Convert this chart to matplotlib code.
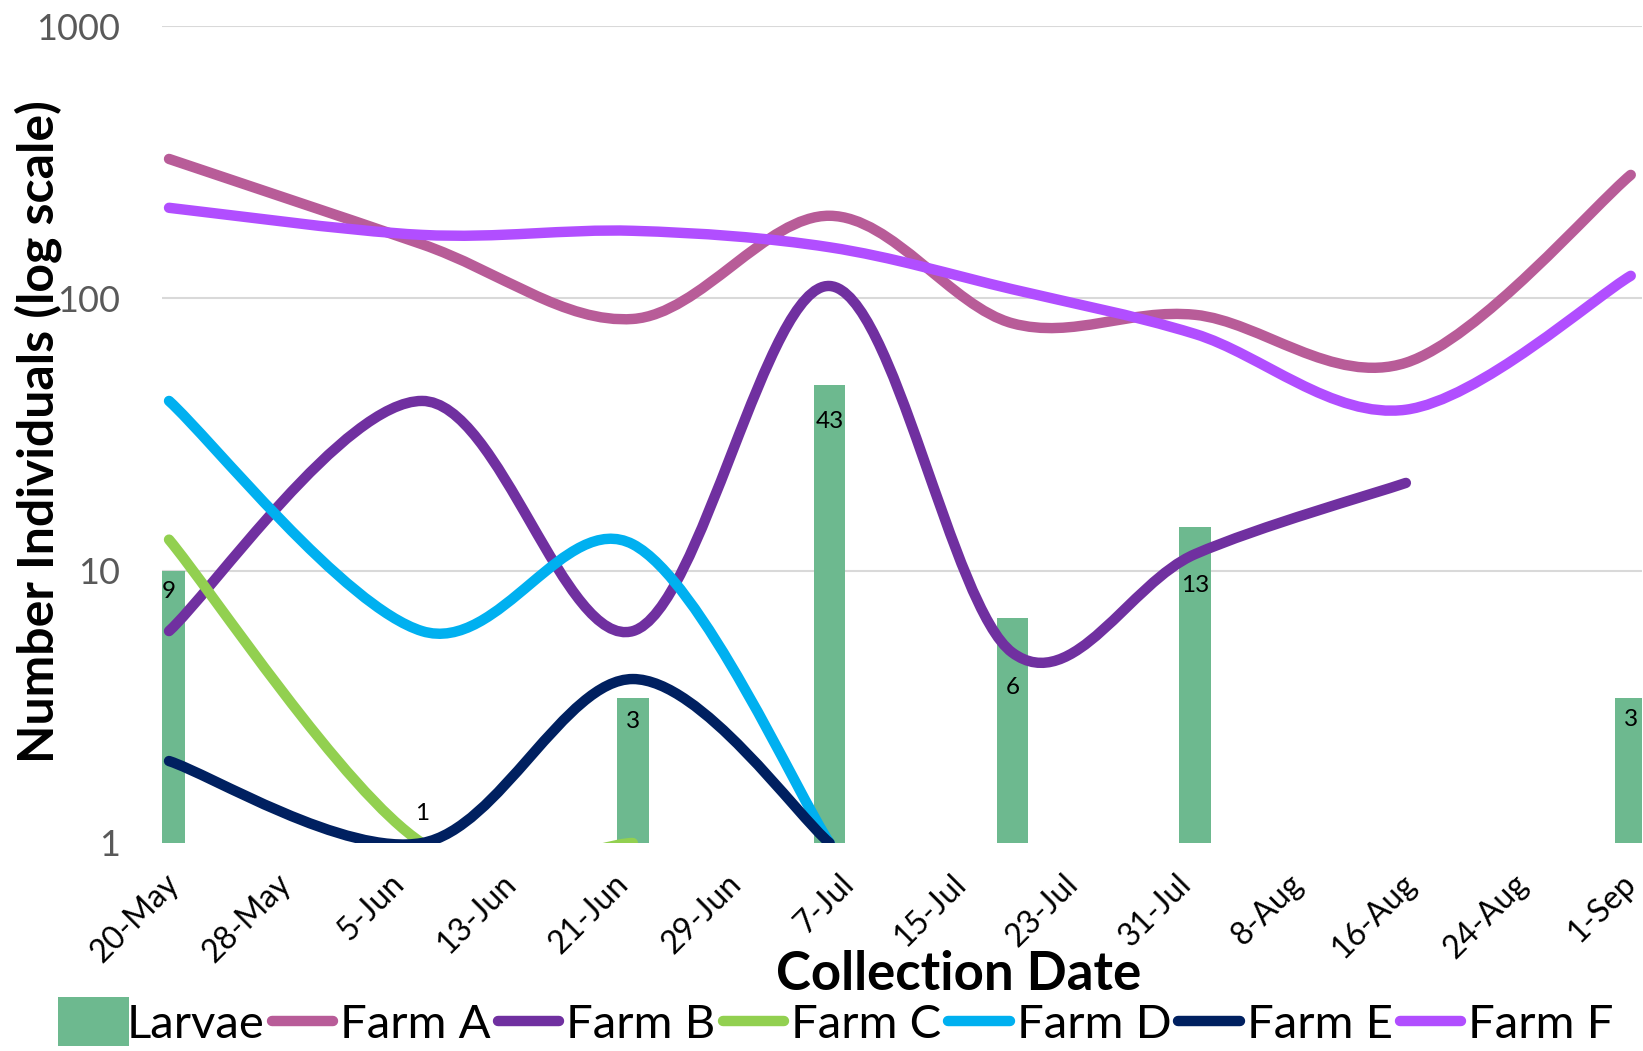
import datetime as dt

import matplotlib
matplotlib.use("Agg")
import matplotlib.dates as mdates
import matplotlib.pyplot as plt
import numpy as np
from matplotlib.legend_handler import HandlerPatch
from matplotlib.lines import Line2D
from matplotlib.patches import Patch, PathPatch, Rectangle
from matplotlib.path import Path
from matplotlib.transforms import ScaledTranslation

# collection dates (year is not shown on the chart)
collection_dates = ["2018-05-20", "2018-06-07", "2018-06-22", "2018-07-06",
                    "2018-07-19", "2018-08-01", "2018-08-16", "2018-09-01"]

# larvae bars: height as drawn, label as printed
larvae_height = [10, 1, 3.4, 48, 6.7, 14.5, np.nan, 3.4]
larvae_label = ["9", "1", "3", "43", "6", "13", "", "3"]

farm_a = [325, 158, 84, 201, 81, 87, 58, 284]
farm_b = [6, 42, 6, 111, 5, 11.5, 21, np.nan]
farm_c = [13, 1, 1, np.nan, np.nan, np.nan, np.nan, np.nan]
farm_d = [42, 6, 12.5, 1, np.nan, np.nan, np.nan, np.nan]
farm_e = [2, 1, 4, 1, np.nan, np.nan, np.nan, np.nan]
farm_f = [215, 171, 177, 154, 108, 74, 39, 121]

farm_names = ["Farm A", "Farm B", "Farm C", "Farm D", "Farm E", "Farm F"]
farm_values = [farm_a, farm_b, farm_c, farm_d, farm_e, farm_f]
farm_colors = ["#B85C98", "#7030A0", "#92D050", "#00B0F0", "#002060", "#B14EFF"]
larvae_color = "#6DB98F"

# how far each bar label sits below the bar top (points; negative = above)
label_drop = [15, -21, 16.5, 26.5, 50, 42, 0, 15]

tick_start = "2018-05-20"
tick_step_days = 8
tick_count = 14

y_ticks = [1, 10, 100, 1000]

plt.rcParams["font.family"] = ["Lato", "DejaVu Sans"]


def smooth_path(x, y):
    """Bezier path through the points, smoothed in screen space (linear x, log y)"""
    y = np.asarray(y, dtype=float)
    ok = ~np.isnan(y)
    px = np.asarray(x, dtype=float)[ok]
    py = np.log10(y[ok])
    n = len(px)
    verts = [(px[0], py[0])]
    codes = [Path.MOVETO]
    for i in range(n - 1):
        a = max(i - 1, 0)
        b = min(i + 2, n - 1)
        c1 = (px[i] + (px[i + 1] - px[a]) / 6, py[i] + (py[i + 1] - py[a]) / 6)
        c2 = (px[i + 1] - (px[b] - px[i]) / 6, py[i + 1] - (py[b] - py[i]) / 6)
        verts += [c1, c2, (px[i + 1], py[i + 1])]
        codes += [Path.CURVE4] * 3
    verts = np.array(verts)
    verts[:, 1] = 10 ** verts[:, 1]
    return Path(verts, codes)


def big_patch(legend, orig_handle, xdescent, ydescent, width, height, fontsize):
    # the larvae swatch is a tall block, bigger than the line handles
    return Rectangle((-xdescent, -ydescent - 0.25 * height), width * 1.15, height * 1.5)


x = mdates.date2num([dt.date.fromisoformat(d) for d in collection_dates])
t0 = dt.date.fromisoformat(tick_start)
tick_dates = [t0 + dt.timedelta(days=tick_step_days * k) for k in range(tick_count)]
tick_x = mdates.date2num(tick_dates)
tick_labels = ["{}-{}".format(d.day, d.strftime("%b")) for d in tick_dates]

fig = plt.figure(figsize=(16.43, 10.51), dpi=100)
ax = fig.add_axes([162 / 1643, 1 - 843 / 1051, (1642 - 162) / 1643, (843 - 26) / 1051])
ax.set_yscale("log")

ax.bar(x, larvae_height, width=2.24, color=larvae_color, zorder=2)

for xi, h, lab, drop in zip(x, larvae_height, larvae_label, label_drop):
    if not lab:
        continue
    ax.annotate(lab, (xi, h), xytext=(0, -drop), textcoords="offset points",
                ha="center", va="center", fontsize=17.5, color="black", zorder=5)

for vals, col in zip(farm_values, farm_colors):
    ax.add_patch(PathPatch(smooth_path(x, vals), fill=False, edgecolor=col, lw=7.5,
                           capstyle="round", joinstyle="round", zorder=3))

ax.set_xlim(x[0] - 0.5, x[-1] + 0.8)
ax.set_ylim(1, 1000)
ax.set_yticks(y_ticks)
ax.set_yticklabels([str(v) for v in y_ticks])
ax.yaxis.set_minor_locator(plt.NullLocator())
ax.set_xticks(tick_x)
ax.set_xticklabels(tick_labels, rotation=45, ha="right", va="center",
                   rotation_mode="anchor")
ax.tick_params(axis="y", length=0, pad=30, labelsize=26, labelcolor="#595959")
ax.tick_params(axis="x", length=0, pad=26, labelsize=23, labelcolor="black")
# shift the rotated labels a touch right, but keep the last one inside the figure
xlabels = ax.get_xticklabels()
for lbl in xlabels[:-1]:
    lbl.set_transform(lbl.get_transform() + ScaledTranslation(5 / 100, 0, fig.dpi_scale_trans))
ax.grid(axis="y", color="#D9D9D9", lw=1.5, zorder=0)
ax.set_axisbelow(True)
ax.get_ygridlines()[0].set_visible(False)
for s in ax.spines.values():
    s.set_visible(False)

fig.text(38 / 1643, 1 - 432 / 1051, "Number Individuals (log scale)", rotation=90,
         ha="center", va="center", fontsize=36, fontweight="bold")
fig.text(959 / 1643, 1 - 975 / 1051, "Collection Date", ha="center", va="center",
         fontsize=38, fontweight="bold")

handles = [Patch(facecolor=larvae_color, edgecolor="none")]
handles += [Line2D([], [], color=c, lw=7.5, solid_capstyle="round") for c in farm_colors]
fig.legend(handles, ["Larvae"] + farm_names, loc="center", ncol=7,
           bbox_to_anchor=(836 / 1643, 1 - 1025 / 1051), frameon=False,
           fontsize=34, handlelength=1.3, handleheight=0.7, handletextpad=0.15,
           columnspacing=0.15, borderpad=0, borderaxespad=0,
           handler_map={Patch: HandlerPatch(patch_func=big_patch)})

fig.savefig("out.png", dpi=100)
